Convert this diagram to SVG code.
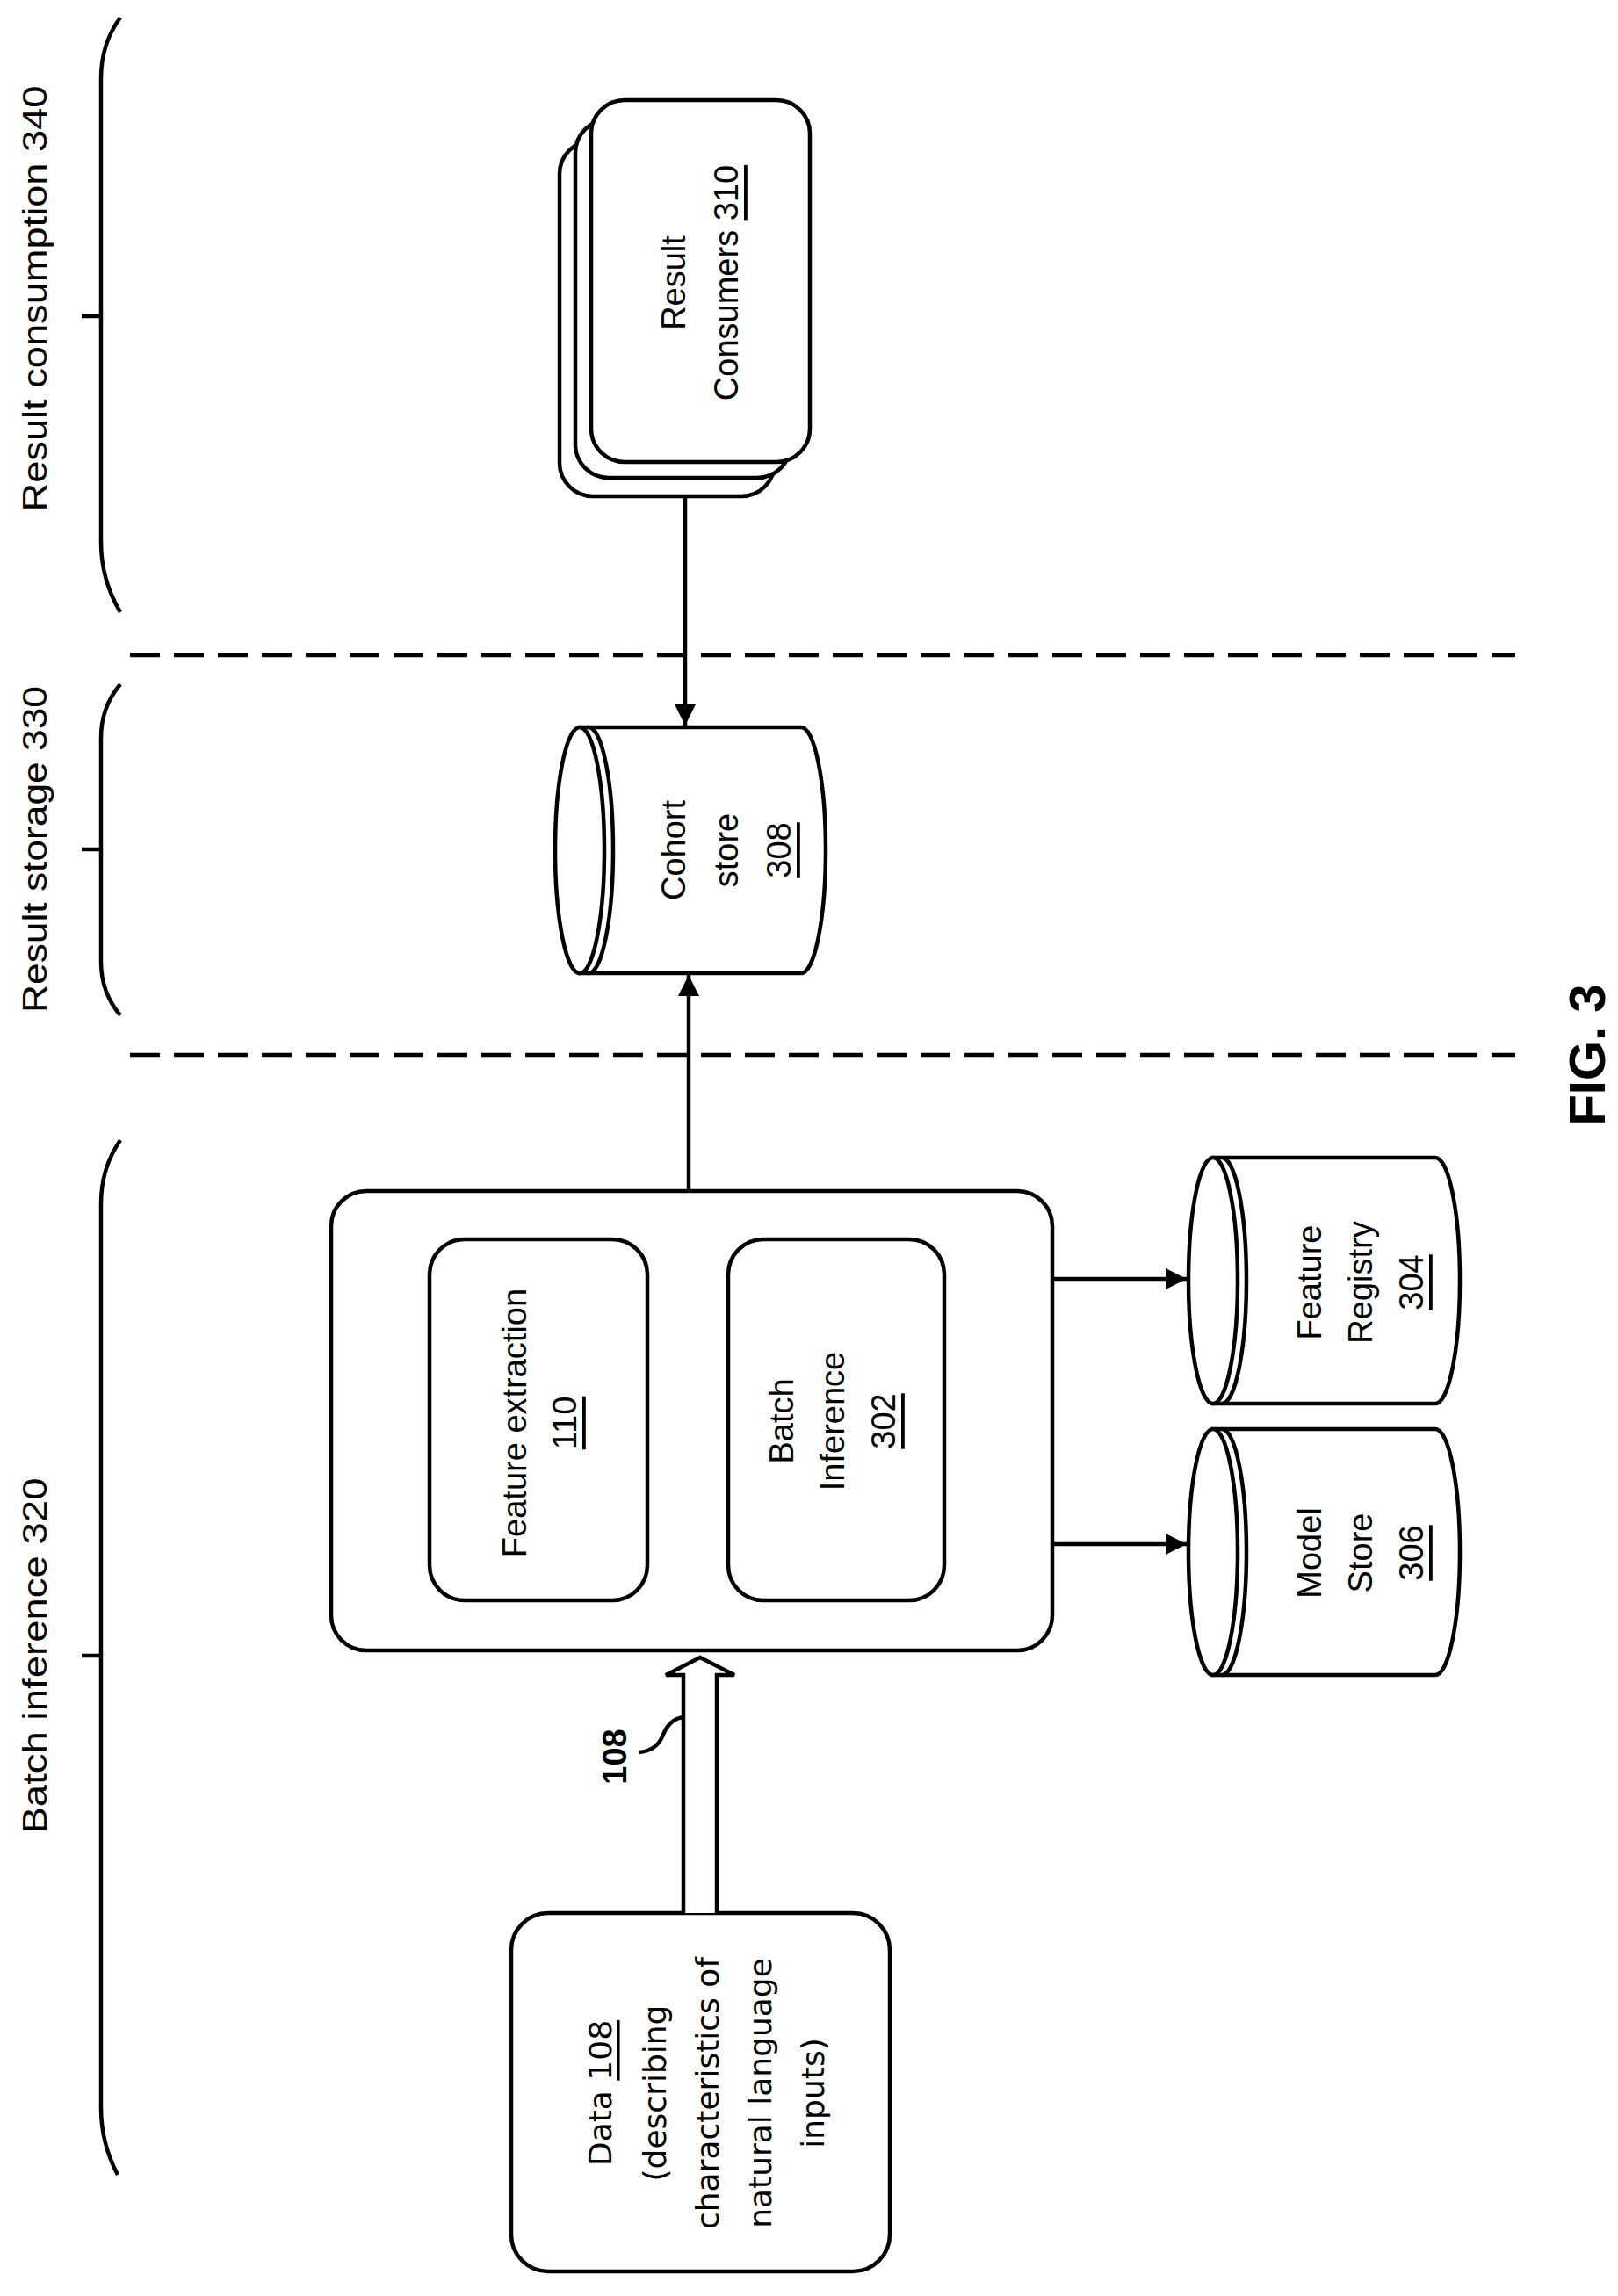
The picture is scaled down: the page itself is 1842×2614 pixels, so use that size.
<svg xmlns="http://www.w3.org/2000/svg" width="1842" height="2614" viewBox="0 0 1842 2614">
<style>
.s{fill:none;stroke:#000;stroke-width:4.5}
.b{fill:#fff;stroke:#000;stroke-width:4.5}
.t{font-family:"Liberation Sans",Arial,sans-serif;font-size:38px;fill:#000;text-anchor:middle;dominant-baseline:central}
.d{font-family:"DejaVu Sans",sans-serif;font-size:36px;fill:#000;text-anchor:middle;dominant-baseline:central}
.u{text-decoration:underline}
</style>
<defs>
<marker id="ah" markerUnits="userSpaceOnUse" markerWidth="26" markerHeight="24" refX="24" refY="12" orient="auto"><path d="M0,0 L24,12 L0,24 Z" fill="#000"/></marker>
</defs>
<g id="braces">
<path class="s" d="M137,20 Q115,50 115,89 L115,617 Q115,660 137,697 M93,360 L115,360"/>
<path class="s" d="M137,779 Q115,805 115,840 L115,1095 Q115,1130 137,1156 M93,967 L115,967"/>
<path class="s" d="M137,1298 Q115,1330 115,1370 L115,2400 Q115,2440 134,2476 M93,1885 L115,1885"/>
<text class="t" transform="translate(40,340) rotate(-90)" textLength="485" lengthAdjust="spacingAndGlyphs">Result consumption 340</text>
<text class="t" transform="translate(40,967) rotate(-90)" textLength="372" lengthAdjust="spacingAndGlyphs">Result storage 330</text>
<text class="t" transform="translate(40,1885) rotate(-90)" textLength="405" lengthAdjust="spacingAndGlyphs">Batch inference 320</text>
</g>
<g id="dividers">
<line class="s" x1="148" y1="746" x2="1725" y2="746" stroke-dasharray="34 16"/>
<line class="s" x1="148" y1="1201" x2="1725" y2="1201" stroke-dasharray="34 16"/>
</g>
<g id="consumers">
<rect class="b" x="637" y="160" width="245" height="405" rx="38"/>
<rect class="b" x="655" y="136" width="245" height="408" rx="38"/>
<rect class="b" x="673" y="114" width="249" height="412" rx="38"/>
<text class="t" transform="translate(767,322) rotate(-90)">Result</text>
<text class="t" transform="translate(827,322) rotate(-90)">Consumers <tspan class="u">310</tspan></text>
</g>
<g id="cohort">
<path class="b" d="M660,828 L912,828 A28,140 0 0 1 912,1108 L660,1108 Z"/>
<ellipse class="b" cx="660" cy="968" rx="28" ry="140"/>
<path class="s" d="M670,828 A28,140 0 0 1 670,1108"/>
<text class="t" transform="translate(767,968) rotate(-90)">Cohort</text>
<text class="t" transform="translate(827,968) rotate(-90)">store</text>
<text class="t u" transform="translate(887,968) rotate(-90)">308</text>
</g>
<g id="pipeline">
<rect class="b" x="377" y="1356" width="821" height="523" rx="40"/>
</g>
<g id="feature-extraction">
<rect class="b" x="489" y="1411" width="248" height="411" rx="40"/>
<text class="t" transform="translate(586,1620) rotate(-90)">Feature extraction</text>
<text class="t u" transform="translate(643,1620) rotate(-90)">110</text>
</g>
<g id="batch-inference">
<rect class="b" x="829" y="1411" width="246" height="411" rx="40"/>
<text class="t" transform="translate(890,1618) rotate(-90)">Batch</text>
<text class="t" transform="translate(948,1618) rotate(-90)">Inference</text>
<text class="t u" transform="translate(1006,1618) rotate(-90)">302</text>
</g>
<g id="feature-registry">
<path class="b" d="M1381,1318 L1634,1318 A28,140 0 0 1 1634,1598 L1381,1598 Z"/>
<ellipse class="b" cx="1381" cy="1458" rx="28" ry="140"/>
<path class="s" d="M1391,1318 A28,140 0 0 1 1391,1598"/>
<text class="t" transform="translate(1491,1460) rotate(-90)">Feature</text>
<text class="t" transform="translate(1549,1460) rotate(-90)">Registry</text>
<text class="t u" transform="translate(1607,1460) rotate(-90)">304</text>
</g>
<g id="model-store">
<path class="b" d="M1381,1627 L1634,1627 A28,140 0 0 1 1634,1907 L1381,1907 Z"/>
<ellipse class="b" cx="1381" cy="1767" rx="28" ry="140"/>
<path class="s" d="M1391,1627 A28,140 0 0 1 1391,1907"/>
<text class="t" transform="translate(1491,1768) rotate(-90)">Model</text>
<text class="t" transform="translate(1549,1768) rotate(-90)">Store</text>
<text class="t u" transform="translate(1607,1768) rotate(-90)">306</text>
</g>
<g id="data">
<rect class="b" x="582" y="2178" width="431" height="408" rx="42"/>
<text class="d" transform="translate(683,2383) rotate(-90)">Data <tspan class="u">108</tspan></text>
<text class="d" transform="translate(745,2383) rotate(-90)">(describing</text>
<text class="d" transform="translate(805,2383) rotate(-90)">characteristics of</text>
<text class="d" transform="translate(865,2383) rotate(-90)">natural language</text>
<text class="d" transform="translate(925,2383) rotate(-90)">inputs)</text>
</g>
<g id="connectors">
<line class="s" x1="780" y1="566" x2="780" y2="826" marker-end="url(#ah)"/>
<line class="s" x1="784" y1="1356" x2="784" y2="1110" marker-end="url(#ah)"/>
<line class="s" x1="1198" y1="1456" x2="1351" y2="1456" marker-end="url(#ah)"/>
<line class="s" x1="1198" y1="1758" x2="1351" y2="1758" marker-end="url(#ah)"/>
<path class="b" d="M778,2178 L778,1907 L758,1907 L797,1887 L836,1907 L816,1907 L816,2178"/>
<path class="s" d="M728,1995 Q748,1993 755,1975 Q762,1957 778,1955"/>
<text class="t" style="font-weight:bold" transform="translate(700,2000) rotate(-90)">108</text>
</g>
<g id="fig">
<text class="t" style="font-weight:bold;font-size:58px" transform="translate(1806,1201) rotate(-90)">FIG. 3</text>
</g>
</svg>
